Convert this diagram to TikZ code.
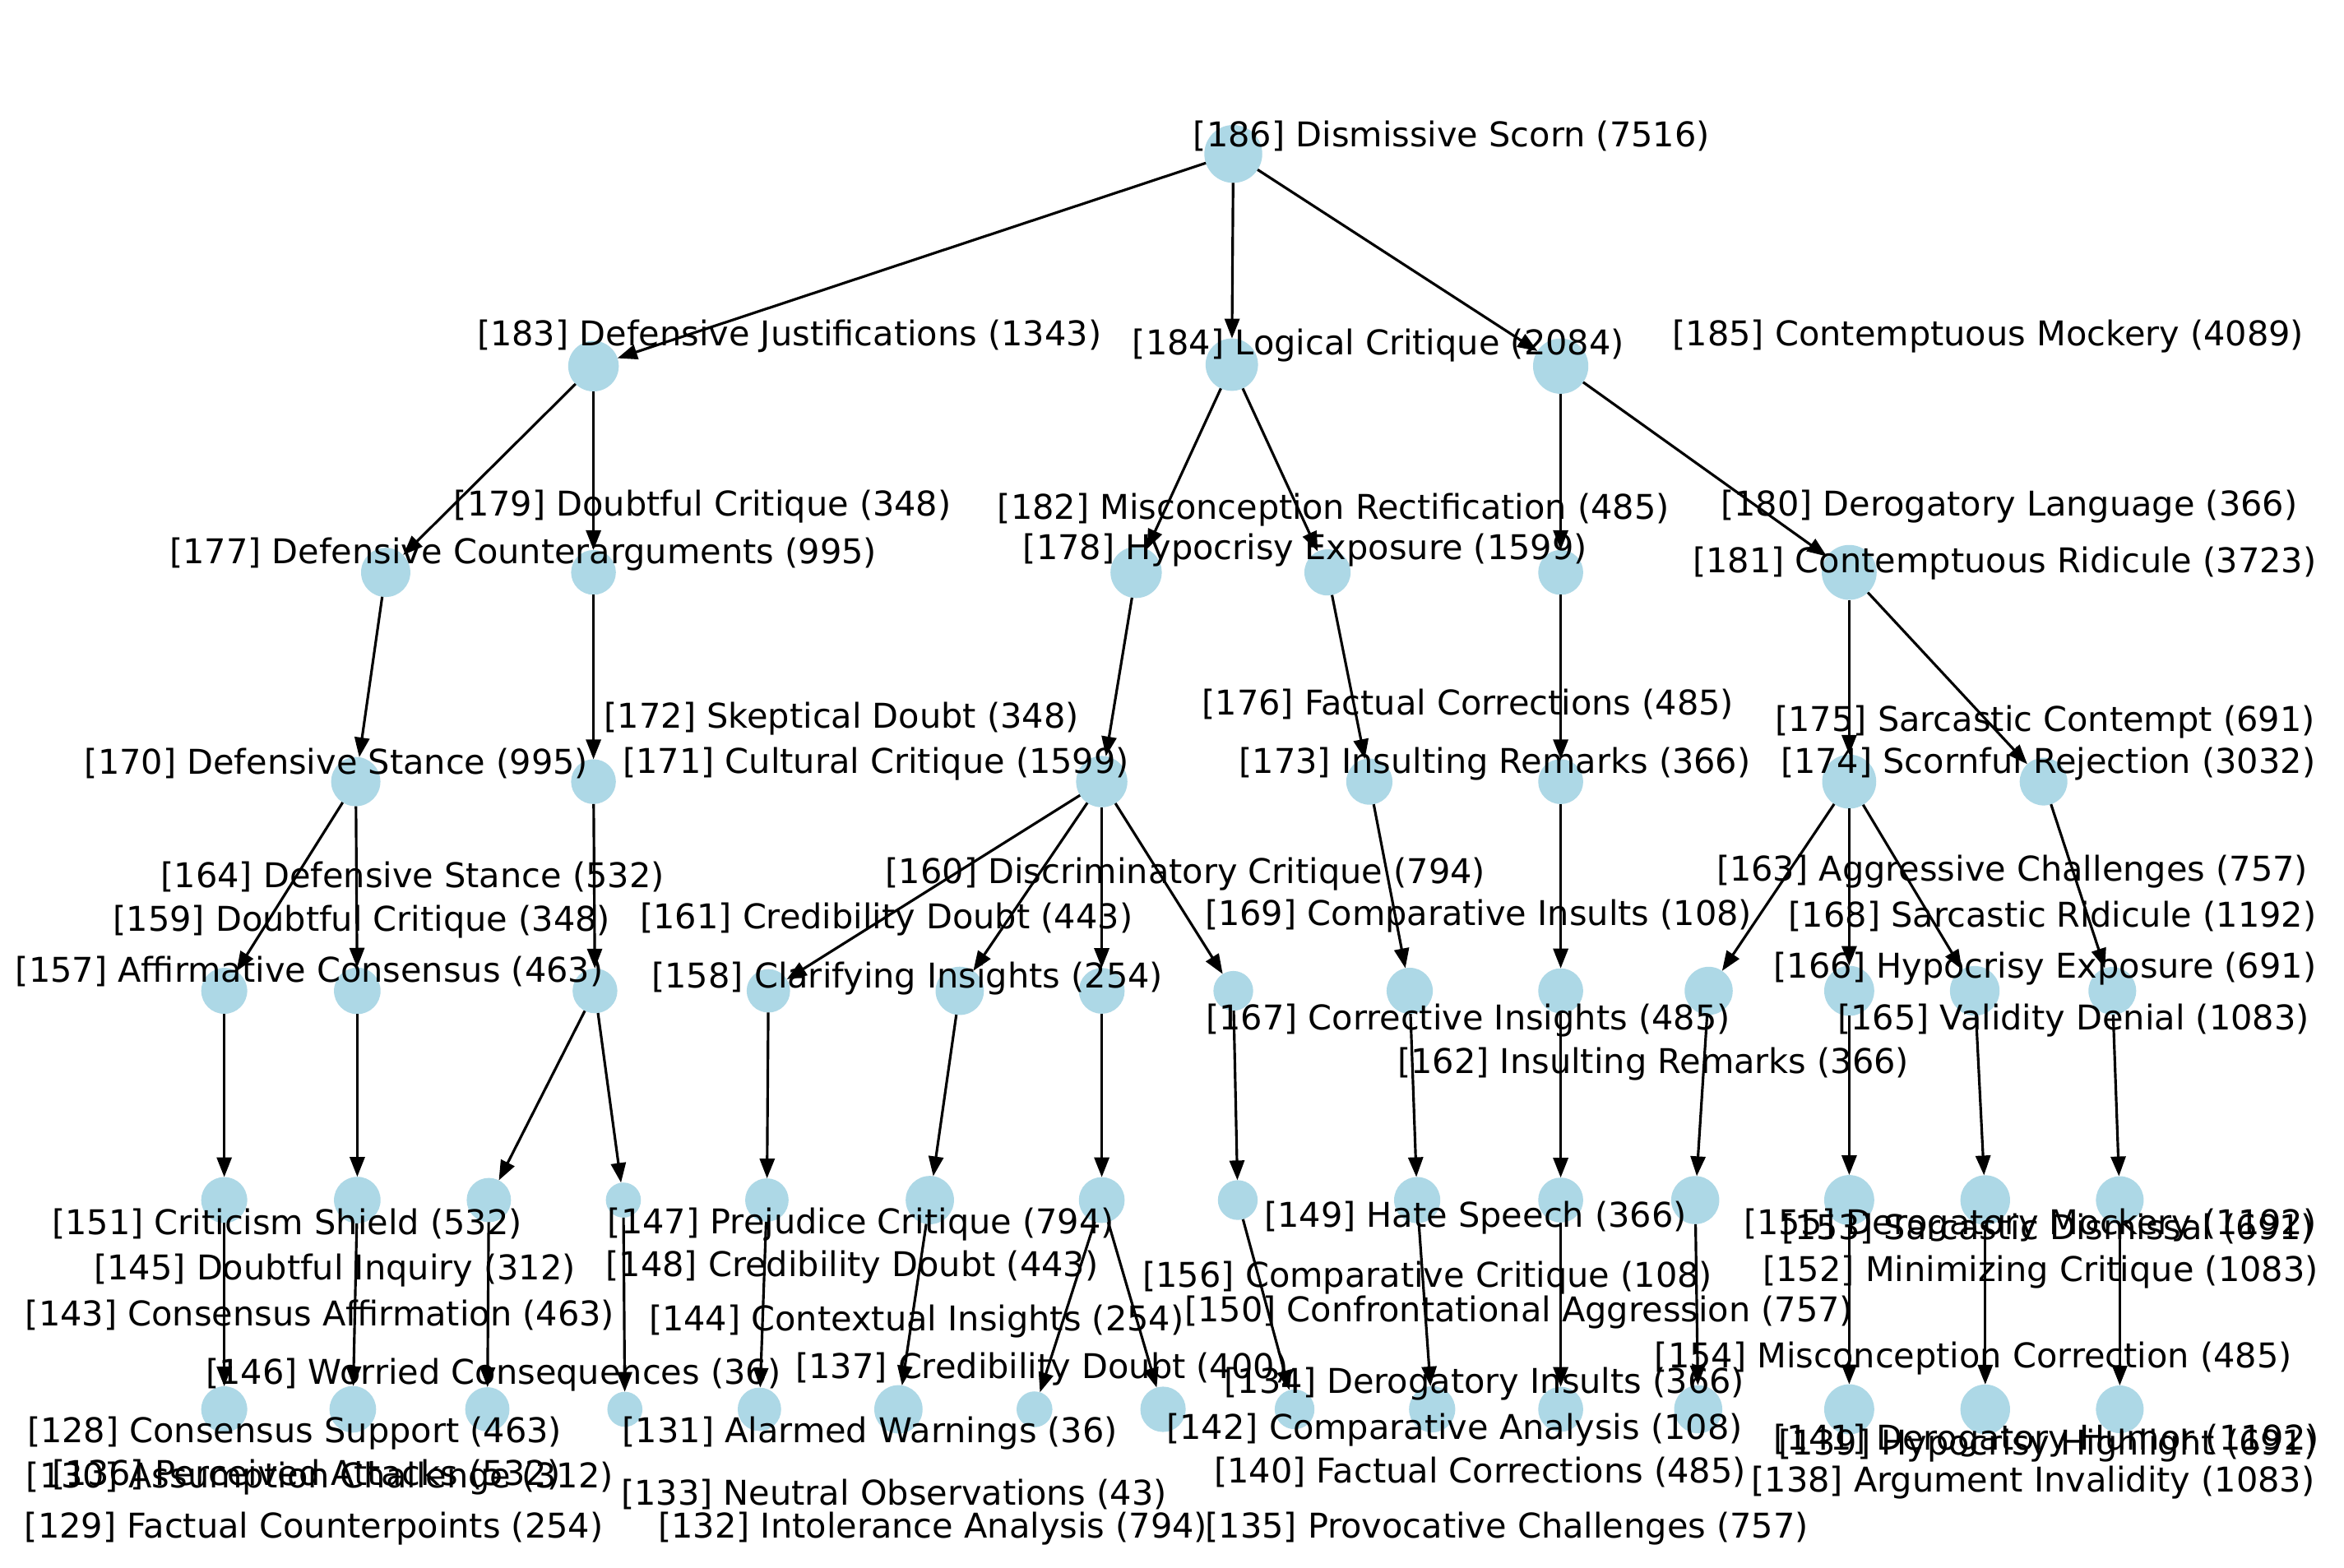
\documentclass[tikz,border=0pt]{standalone}
\usepackage{fontspec}
\setmainfont{DejaVu Sans}
\usetikzlibrary{arrows.meta}
\definecolor{nodeblue}{HTML}{ADD8E6}

\begin{document}
\begin{tikzpicture}[
    x=0.18176mm, y=-0.18176mm,
    dot/.style={circle, fill=nodeblue, inner sep=0pt, outer sep=0pt, minimum size={(2.4+0.52*ln(#1))*1mm}},
    lbl/.style={inner sep=0pt, yshift=-0.36mm, font=\fontsize{11.8pt}{14pt}\selectfont},
    ar/.style={-{Triangle[length=2.4mm, width=1.8mm]}, line width=0.9pt}
]
\useasboundingbox[fill=white] (0,0) rectangle (1568,1049);
% level 0
\node[dot=7516] (n186) at (825,103) {};
% level 1
\node[dot=1343] (n183) at (397,245) {};
\node[dot=2084] (n184) at (824,244) {};
\node[dot=4089] (n185) at (1044,245) {};
% level 2
\node[dot=995] (n177) at (258,383) {};
\node[dot=348] (n179) at (397,383) {};
\node[dot=1599] (n178) at (760,383) {};
\node[dot=485] (n182) at (888,383) {};
\node[dot=366] (n180) at (1044,383) {};
\node[dot=3723] (n181) at (1237,383) {};
% level 3
\node[dot=995] (n170) at (238,523) {};
\node[dot=348] (n172) at (397,523) {};
\node[dot=1599] (n171) at (737,523) {};
\node[dot=485] (n176) at (916,523) {};
\node[dot=366] (n173) at (1044,523) {};
\node[dot=3032] (n174) at (1237,523) {};
\node[dot=691] (n175) at (1367,523) {};
% level 4
\node[dot=463] (n157) at (150,663) {};
\node[dot=532] (n164) at (239,663) {};
\node[dot=348] (n159) at (398,663) {};
\node[dot=254] (n158) at (514,663) {};
\node[dot=794] (n160) at (642,663) {};
\node[dot=443] (n161) at (737,663) {};
\node[dot=108] (n169) at (825,663) {};
\node[dot=485] (n167) at (943,663) {};
\node[dot=366] (n162) at (1044,663) {};
\node[dot=757] (n163) at (1143,663) {};
\node[dot=1192] (n168) at (1237,663) {};
\node[dot=1083] (n165) at (1321,663) {};
\node[dot=691] (n166) at (1413,663) {};
% level 5
\node[dot=463] (n143) at (150,803) {};
\node[dot=532] (n151) at (239,803) {};
\node[dot=312] (n145) at (327,803) {};
\node[dot=36] (n146) at (417,803) {};
\node[dot=254] (n144) at (513,803) {};
\node[dot=794] (n147) at (622,803) {};
\node[dot=443] (n148) at (737,803) {};
\node[dot=108] (n156) at (828,803) {};
\node[dot=485] (n154) at (948,803) {};
\node[dot=366] (n149) at (1044,803) {};
\node[dot=757] (n150) at (1134,803) {};
\node[dot=1192] (n155) at (1237,803) {};
\node[dot=1083] (n152) at (1328,803) {};
\node[dot=691] (n153) at (1418,803) {};
% level 6
\node[dot=463] (n128) at (150,943) {};
\node[dot=532] (n136) at (236,943) {};
\node[dot=312] (n130) at (326,943) {};
\node[dot=36] (n131) at (418,943) {};
\node[dot=254] (n129) at (508,943) {};
\node[dot=794] (n132) at (601,943) {};
\node[dot=43] (n133) at (692,943) {};
\node[dot=400] (n137) at (778,943) {};
\node[dot=108] (n142) at (866,943) {};
\node[dot=485] (n140) at (958,943) {};
\node[dot=366] (n134) at (1044,943) {};
\node[dot=757] (n135) at (1136,943) {};
\node[dot=1192] (n141) at (1237,943) {};
\node[dot=1083] (n138) at (1328,943) {};
\node[dot=691] (n139) at (1418,943) {};
% edges
\foreach \a/\b in {186/183, 186/184, 186/185,
    183/177, 183/179, 184/178, 184/182, 185/180, 185/181,
    177/170, 179/172, 178/171, 182/176, 180/173, 181/174, 181/175,
    170/157, 170/164, 172/159, 171/158, 171/160, 171/161, 171/169,
    176/167, 173/162, 174/163, 174/168, 174/165, 175/166,
    157/143, 164/151, 159/145, 159/146, 158/144, 160/147, 161/148,
    169/156, 167/154, 162/149, 163/150, 168/155, 165/152, 166/153,
    143/128, 151/136, 145/130, 146/131, 144/129, 147/132, 148/133, 148/137,
    156/142, 154/140, 149/134, 150/135, 155/141, 152/138, 153/139}
    \draw[ar] (n\a) -- (n\b);
% labels
\node[lbl] (t186) at (971,89) {[186] Dismissive Scorn (7516)};
\node[lbl] (t183) at (528,223) {[183] Defensive Justifications (1343)};
\node[lbl] (t184) at (922,229) {[184] Logical Critique (2084)};
\node[lbl] (t185) at (1330,223) {[185] Contemptuous Mockery (4089)};
\node[lbl] (t179) at (470,337) {[179] Doubtful Critique (348)};
\node[lbl] (t177) at (350,369) {[177] Defensive Counterarguments (995)};
\node[lbl] (t182) at (892,339) {[182] Misconception Rectification (485)};
\node[lbl] (t178) at (873,366) {[178] Hypocrisy Exposure (1599)};
\node[lbl] (t180) at (1344,337) {[180] Derogatory Language (366)};
\node[lbl] (t181) at (1341,375) {[181] Contemptuous Ridicule (3723)};
\node[lbl] (t172) at (563,479) {[172] Skeptical Doubt (348)};
\node[lbl] (t171) at (586,509) {[171] Cultural Critique (1599)};
\node[lbl] (t170) at (225,509) {[170] Defensive Stance (995)};
\node[lbl] (t176) at (982,469) {[176] Factual Corrections (485)};
\node[lbl] (t173) at (1000,509) {[173] Insulting Remarks (366)};
\node[lbl] (t175) at (1368,481) {[175] Sarcastic Contempt (691)};
\node[lbl] (t174) at (1370,509) {[174] Scornful Rejection (3032)};
\node[lbl] (t164) at (276,585) {[164] Defensive Stance (532)};
\node[lbl] (t159) at (242,615) {[159] Doubtful Critique (348)};
\node[lbl] (t157) at (207,648) {[157] Affirmative Consensus (463)};
\node[lbl] (t160) at (793,583) {[160] Discriminatory Critique (794)};
\node[lbl] (t161) at (593,613) {[161] Credibility Doubt (443)};
\node[lbl] (t158) at (607,653) {[158] Clarifying Insights (254)};
\node[lbl] (t169) at (989,611) {[169] Comparative Insults (108)};
\node[lbl] (t167) at (982,681) {[167] Corrective Insights (485)};
\node[lbl] (t162) at (1106,710) {[162] Insulting Remarks (366)};
\node[lbl] (t163) at (1346,581) {[163] Aggressive Challenges (757)};
\node[lbl] (t168) at (1373,611) {[168] Sarcastic Ridicule (1192)};
\node[lbl] (t166) at (1368,646) {[166] Hypocrisy Exposure (691)};
\node[lbl] (t165) at (1387,681) {[165] Validity Denial (1083)};
\node[lbl] (t151) at (192,817) {[151] Criticism Shield (532)};
\node[lbl] (t145) at (224,848) {[145] Doubtful Inquiry (312)};
\node[lbl] (t143) at (214,878) {[143] Consensus Affirmation (463)};
\node[lbl] (t147) at (576,817) {[147] Prejudice Critique (794)};
\node[lbl] (t148) at (570,846) {[148] Credibility Doubt (443)};
\node[lbl] (t144) at (613,882) {[144] Contextual Insights (254)};
\node[lbl] (t146) at (330,918) {[146] Worried Consequences (36)};
\node[lbl] (t137) at (697,914) {[137] Credibility Doubt (400)};
\node[lbl] (t149) at (987,813) {[149] Hate Speech (366)};
\node[lbl] (t156) at (955,853) {[156] Comparative Critique (108)};
\node[lbl] (t150) at (1016,876) {[150] Confrontational Aggression (757)};
\node[lbl] (t134) at (993,924) {[134] Derogatory Insults (366)};
\node[lbl] (t155) at (1358,818) {[155] Derogatory Mockery (1192)};
\node[lbl] (t153) at (1370,820) {[153] Sarcastic Dismissal (691)};
\node[lbl] (t152) at (1365,849) {[152] Minimizing Critique (1083)};
\node[lbl] (t154) at (1320,907) {[154] Misconception Correction (485)};
\node[lbl] (t128) at (197,957) {[128] Consensus Support (463)};
\node[lbl] (t136) at (205,985) {[136] Perceived Attacks (532)};
\node[lbl] (t130) at (214,987) {[130] Assumption Challenge (312)};
\node[lbl] (t129) at (210,1021) {[129] Factual Counterpoints (254)};
\node[lbl] (t131) at (582,957) {[131] Alarmed Warnings (36)};
\node[lbl] (t133) at (598,998) {[133] Neutral Observations (43)};
\node[lbl] (t132) at (624,1021) {[132] Intolerance Analysis (794)};
\node[lbl] (t142) at (973,955) {[142] Comparative Analysis (108)};
\node[lbl] (t140) at (990,983) {[140] Factual Corrections (485)};
\node[lbl] (t135) at (1008,1021) {[135] Provocative Challenges (757)};
\node[lbl] (t141) at (1369,962) {[141] Derogatory Humor (1192)};
\node[lbl] (t139) at (1370,965) {[139] Hypocrisy Highlight (691)};
\node[lbl] (t138) at (1360,990) {[138] Argument Invalidity (1083)};
\end{tikzpicture}
\end{document}
